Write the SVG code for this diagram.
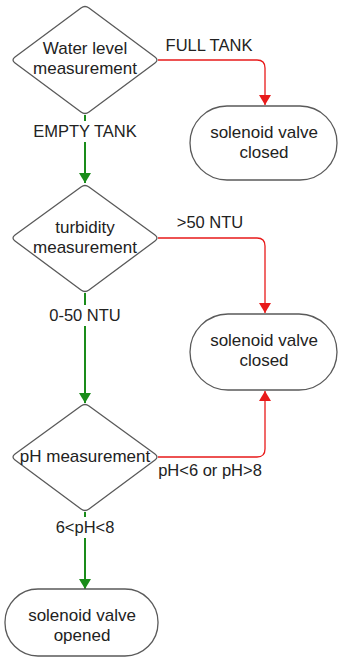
<svg xmlns="http://www.w3.org/2000/svg" width="338" height="662" viewBox="0 0 338 662">
<defs>
<style>
.node{fill:#fff;stroke:#5a5a5a;stroke-width:1.3;stroke-linejoin:round}
text{font-family:"Liberation Sans",Arial,sans-serif;font-size:16.5px;fill:#222;text-anchor:middle}
.n text{font-size:17px}
.r{fill:none;stroke:#e81a1a;stroke-width:1.3}
.g{fill:none;stroke:#1a8c1a;stroke-width:2}
.lbl{fill:#fff;stroke:none}
</style>
<marker id="ar" viewBox="0 0 10 12" refX="10" refY="6" markerWidth="10" markerHeight="12" markerUnits="userSpaceOnUse" orient="auto"><path d="M0,0 L10,6 L0,12 z" fill="#e81a1a"/></marker>
<marker id="ag" viewBox="0 0 10 12" refX="10" refY="6" markerWidth="10" markerHeight="12" markerUnits="userSpaceOnUse" orient="auto"><path d="M0,0 L10,6 L0,12 z" fill="#1a8c1a"/></marker>
</defs>
<rect width="338" height="662" fill="#fff"/>
<g id="connectors">
<path class="r" d="M158,60 H257 Q265,60 265,68 V105" marker-end="url(#ar)"/>
<path class="g" d="M85,115 V183" marker-end="url(#ag)"/>
<rect class="lbl" x="28" y="121" width="114" height="21"/>
<text x="85" y="137">EMPTY TANK</text>
<text x="209" y="51">FULL TANK</text>
<path class="r" d="M158,238 H257 Q265,238 265,246 V313" marker-end="url(#ar)"/>
<text x="210" y="228">&gt;50 NTU</text>
<path class="g" d="M85,293 V403" marker-end="url(#ag)"/>
<rect class="lbl" x="44" y="305" width="82" height="21"/>
<text x="85" y="321">0-50 NTU</text>
<path class="r" d="M158,457 H257 Q265,457 265,449 V391" marker-end="url(#ar)"/>
<text x="210" y="476">pH&lt;6 or pH&gt;8</text>
<path class="g" d="M85,512 V589" marker-end="url(#ag)"/>
<rect class="lbl" x="52" y="517" width="66" height="21"/>
<text x="85" y="533">6&lt;pH&lt;8</text>
</g>
<g id="water" class="n">
<path class="node" d="M89,8 L155,57 Q159,60 155,63 L89,112 Q85,115 81,112 L15,63 Q11,60 15,57 L81,8 Q85,5 89,8 Z"/>
<text x="85" y="54">Water level</text>
<text x="85" y="74">measurement</text>
</g>
<g id="closed1" class="n">
<rect class="node" x="190" y="106" width="147" height="74" rx="37"/>
<text x="264" y="138">solenoid valve</text>
<text x="264" y="158">closed</text>
</g>
<g id="turbidity" class="n">
<path class="node" d="M89,187 L155,235 Q159,238 155,241 L89,290 Q85,293 81,290 L15,241 Q11,238 15,235 L81,187 Q85,184 89,187 Z"/>
<text x="85" y="233">turbidity</text>
<text x="85" y="253">measurement</text>
</g>
<g id="closed2" class="n">
<rect class="node" x="190" y="314" width="147" height="76" rx="38"/>
<text x="264" y="346">solenoid valve</text>
<text x="264" y="366">closed</text>
</g>
<g id="ph" class="n">
<path class="node" d="M89,406 L155,454 Q159,457 155,460 L89,509 Q85,512 81,509 L15,460 Q11,457 15,454 L81,406 Q85,403 89,406 Z"/>
<text x="85" y="462">pH measurement</text>
</g>
<g id="opened" class="n">
<rect class="node" x="5" y="589" width="153" height="67" rx="33"/>
<text x="82" y="621">solenoid valve</text>
<text x="82" y="641">opened</text>
</g>
</svg>
